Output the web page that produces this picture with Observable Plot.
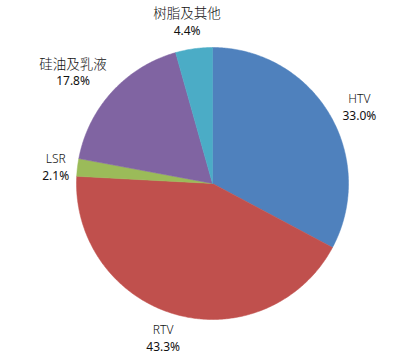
<!DOCTYPE html>
<html>
<head>
<meta charset="utf-8">
<script src="https://cdn.jsdelivr.net/npm/d3@7"></script>
<script src="https://cdn.jsdelivr.net/npm/@observablehq/plot@0.6"></script>
<style>
  html, body { margin: 0; padding: 0; background: #fff; }
  #chart svg { display: block; }
</style>
</head>
<body>
<div id="chart"></div>
<script>
// Data
const names = ["HTV", "RTV", "LSR", "硅油及乳液", "树脂及其他"];
const values = [33.0, 43.3, 2.1, 17.8, 4.4];
const colors = ["#4F81BD", "#C0504D", "#9BBB59", "#8064A2", "#4BACC6"];

const rows = names.map((name, i) => ({name, value: values[i]}));
const arcs = d3.pie().sort(null).value(d => d.value)(rows);

// slice outlines in unit-circle coordinates (angle 0 at top, clockwise)
const outline = [];
for (const a of arcs) {
  const n = Math.max(2, Math.ceil((a.endAngle - a.startAngle) / 0.01));
  outline.push({name: a.data.name, x: 0, y: 0});
  for (let k = 0; k <= n; k++) {
    const t = a.startAngle + (a.endAngle - a.startAngle) * k / n;
    outline.push({name: a.data.name, x: Math.sin(t), y: Math.cos(t)});
  }
  outline.push({name: a.data.name, x: 0, y: 0});
}

// label placement: outside each slice near its mid-angle, pulled slightly toward horizontal
const R = 136; // pixels per unit
const isCJK = s => /[\u4e00-\u9fff]/.test(s);
const labels = arcs.map(a => {
  const mid = (a.startAngle + a.endAngle) / 2;
  const m = mid + (4 * Math.PI / 180) * Math.sin(2 * mid);
  const name = a.data.name;
  const pct = a.data.value.toFixed(1) + "%";
  const w = Math.max(isCJK(name) ? name.length * 13.5 : name.length * 8, pct.length * 7.5);
  const h = 34;
  const d = R + 5 + Math.abs(Math.sin(m)) * w / 2 + Math.abs(Math.cos(m)) * h / 2;
  return {name, pct, x: Math.sin(m) * d / R, y: Math.cos(m) * d / R};
});

const font = "'Noto Sans', 'Noto Sans CJK SC', sans-serif";

const chart = Plot.plot({
  width: 410,
  height: 361,
  marginLeft: 76,
  marginRight: 62,
  marginTop: 47,
  marginBottom: 42,
  x: {domain: [-1, 1], axis: null},
  y: {domain: [-1, 1], axis: null},
  color: {domain: names, range: colors},
  style: {fontFamily: font, background: "#fff", overflow: "visible"},
  marks: [
    Plot.line(outline, {x: "x", y: "y", z: "name", fill: "name", stroke: "name", strokeWidth: 0.5, curve: "linear"}),
    Plot.text(labels, {x: "x", y: "y", text: "name", dy: -8.5, fill: "#111",
      fontSize: d => isCJK(d.name) ? 13.5 : 12, fontWeight: 300, fontFamily: font}),
    Plot.text(labels, {x: "x", y: "y", text: "pct", dy: 8.5, fill: "#111", fontSize: 12, fontFamily: font})
  ]
});
document.getElementById("chart").appendChild(chart);
</script>
</body>
</html>
